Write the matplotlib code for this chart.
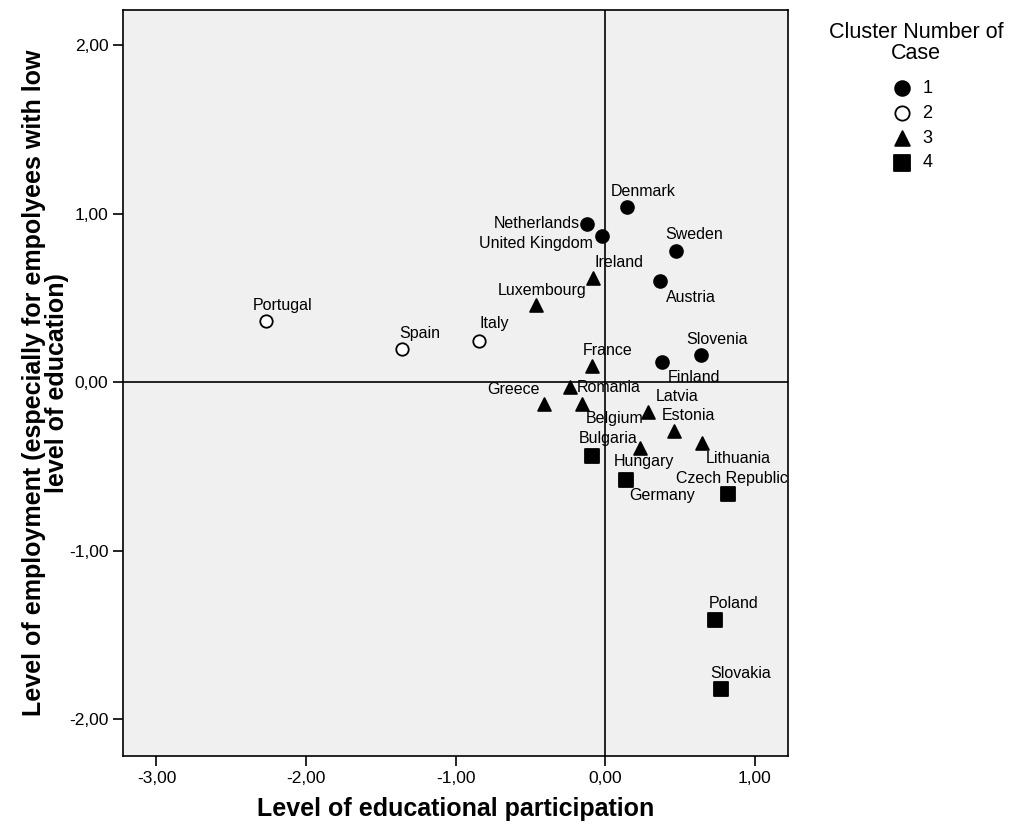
import matplotlib
matplotlib.use('Agg')
import matplotlib.pyplot as plt
import numpy as np

plt.rcParams['font.family'] = ['Liberation Sans', 'DejaVu Sans']

# 국가별 데이터 (군집 분석 결과)
countries = ['Portugal', 'Spain', 'Italy', 'Denmark', 'Netherlands', 'United Kingdom',
             'Sweden', 'Ireland', 'Austria', 'Luxembourg', 'Slovenia', 'Finland',
             'France', 'Romania', 'Greece', 'Belgium', 'Latvia', 'Estonia',
             'Lithuania', 'Hungary', 'Bulgaria', 'Germany', 'Czech Republic',
             'Poland', 'Slovakia']
edu = [-2.27, -1.36, -0.84, 0.15, -0.12, -0.02,
       0.475, -0.08, 0.37, -0.46, 0.645, 0.38,
       -0.085, -0.234, -0.41, -0.156, 0.285, 0.46,
       0.647, 0.236, -0.09, 0.138, 0.82,
       0.736, 0.776]
emp = [0.362, 0.196, 0.245, 1.04, 0.94, 0.87,
       0.78, 0.62, 0.60, 0.46, 0.16, 0.117,
       0.097, -0.03, -0.127, -0.127, -0.176, -0.29,
       -0.364, -0.39, -0.437, -0.58, -0.667,
       -1.41, -1.82]
cluster = [2, 2, 2, 1, 1, 1,
           1, 3, 1, 3, 1, 1,
           3, 3, 3, 3, 3, 3,
           3, 3, 4, 4, 4,
           4, 4]

x_ticks = [-3, -2, -1, 0, 1]
x_tick_labels = ['-3,00', '-2,00', '-1,00', '0,00', '1,00']
y_ticks = [-2, -1, 0, 1, 2]
y_tick_labels = ['-2,00', '-1,00', '0,00', '1,00', '2,00']

# 라벨 위치 (마커 기준 픽셀 오프셋)
label_offset = {
    'Portugal': (17, 16), 'Spain': (18, 16), 'Italy': (15, 17),
    'Denmark': (16, 16), 'Netherlands': (-50, 0), 'United Kingdom': (-66, -8),
    'Sweden': (18, 16), 'Ireland': (26, 15), 'Austria': (31, -16),
    'Luxembourg': (6, 14), 'Slovenia': (16, 16), 'Finland': (32, -15),
    'France': (15, 15), 'Romania': (39, 0), 'Greece': (-30, 14),
    'Belgium': (33, -15), 'Latvia': (30, 15), 'Estonia': (15, 15),
    'Lithuania': (37, -15), 'Hungary': (4, -14), 'Bulgaria': (17, 17),
    'Germany': (36, -16), 'Czech Republic': (4, 16), 'Poland': (19, 16),
    'Slovakia': (20, 15),
}

styles = {
    1: dict(marker='o', facecolor='black', s=85),
    2: dict(marker='o', facecolor='white', s=80),
    3: dict(marker='^', facecolor='black', s=85),
    4: dict(marker='s', facecolor='black', s=95),
}

fig = plt.figure(figsize=(10.14, 8.32), dpi=100)
ax = fig.add_axes([123 / 1014, 1 - 756 / 832, 665 / 1014, 746 / 832])
ax.set_facecolor('#f0f0f0')

edu = np.array(edu)
emp = np.array(emp)
cluster = np.array(cluster)

# 기준선
ax.axvline(0, color='black', lw=1.2, zorder=1)
ax.axhline(0, color='black', lw=1.2, zorder=1)

for c in [1, 2, 3, 4]:
    m = cluster == c
    st = styles[c]
    ax.scatter(edu[m], emp[m], marker=st['marker'], s=st['s'],
               facecolor=st['facecolor'], edgecolor='black', linewidths=1.3,
               zorder=3, label=str(c))

for name, xv, yv in zip(countries, edu, emp):
    dx, dy = label_offset[name]
    ax.annotate(name, (xv, yv), xytext=(dx, dy), textcoords='offset pixels',
                ha='center', va='center', fontsize=11.5, zorder=4)

ax.set_xlim(-3.224, 1.224)
ax.set_ylim(-2.22, 2.21)
ax.set_xticks(x_ticks)
ax.set_xticklabels(x_tick_labels)
ax.set_yticks(y_ticks)
ax.set_yticklabels(y_tick_labels)
ax.tick_params(direction='out', length=7.5, width=1.2, labelsize=12.5, pad=3)
for sp in ax.spines.values():
    sp.set_linewidth(1.2)

ax.set_xlabel('Level of educational participation', fontsize=18,
              fontweight='bold', labelpad=8)
ax.set_ylabel('Level of employment (especially for empolyees with low\nlevel of education)',
              fontsize=18, fontweight='bold', labelpad=0, linespacing=0.95)

# 범례
fig.text(916 / 1014, 1 - 43 / 832, 'Cluster Number of\nCase', ha='center',
         va='center', fontsize=15.5, linespacing=1.0)
leg = fig.legend(loc='upper center', bbox_to_anchor=(908 / 1014, 1 - 80 / 832),
                 frameon=False, fontsize=13, handletextpad=0.15,
                 labelspacing=0.43, borderaxespad=0, borderpad=0,
                 markerscale=1.15)

fig.savefig('out.png', dpi=100)
